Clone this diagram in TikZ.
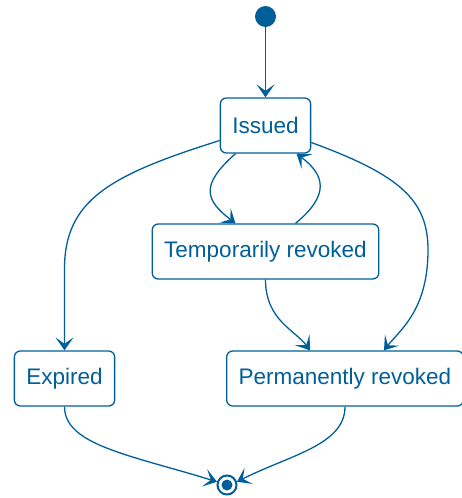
\documentclass[tikz,border=0pt]{standalone}
\usepackage{fontspec}
\setmainfont{Liberation Sans}
\usetikzlibrary{arrows.meta}
\definecolor{umlblue}{RGB}{0,95,153}

\begin{document}
\begin{tikzpicture}[x=1pt,y=-1pt,line width=1.3pt,umlblue,
  state/.style={draw,rounded corners=6pt,inner xsep=12pt,minimum height=55pt,
    font=\fontsize{22.5}{27}\selectfont,text=umlblue},
  tr/.style={-{Stealth[length=13pt,width=18pt,inset=6.5pt]}}]
  \useasboundingbox (0,0) rectangle (462,498);
  \fill (265.5,16.5) circle (10.5pt);
  \coordinate (init) at (265.5,27);
  \node[state] (issued)  at (265.5,125.5) {Issued};
  \node[state] (temp)    at (265.5,251.5) {Temporarily revoked};
  \node[state] (expired) at (64.5,378.5)  {Expired};
  \node[state] (perm)    at (345,378.5)   {Permanently revoked};
  \node[draw,circle,line width=2pt,minimum size=19pt,inner sep=0pt] (final) at (227,485) {};
  \fill (final.center) circle (5.5pt);
  \draw[tr] (init) -- (issued.north);
  \draw[tr] ([yshift=-15pt]issued.west) .. controls (110,175) and (64,200) .. (64.5,270) -- (expired.north);
  \draw[tr] ([yshift=-17pt]issued.east) .. controls (400,175) and (428,200) .. (428,250)
    .. controls (428,310) and (400,330) .. ([xshift=39pt]perm.north);
  \draw[tr] ([xshift=-30pt]issued.south) .. controls (200,185) and (205,200) .. ([xshift=-30pt]temp.north);
  \draw[tr] ([xshift=30pt]temp.north) .. controls (330,195) and (325,175) .. ([xshift=31pt]issued.south);
  \draw[tr] (temp.south) .. controls (265.5,320) and (295,330) .. ([xshift=-35pt]perm.north);
  \draw[tr] (expired.south) .. controls (64.5,445) and (130,455) .. (final.162);
  \draw[tr] (perm.south) .. controls (345,445) and (290,455) .. (final.18);
\end{tikzpicture}
\end{document}
